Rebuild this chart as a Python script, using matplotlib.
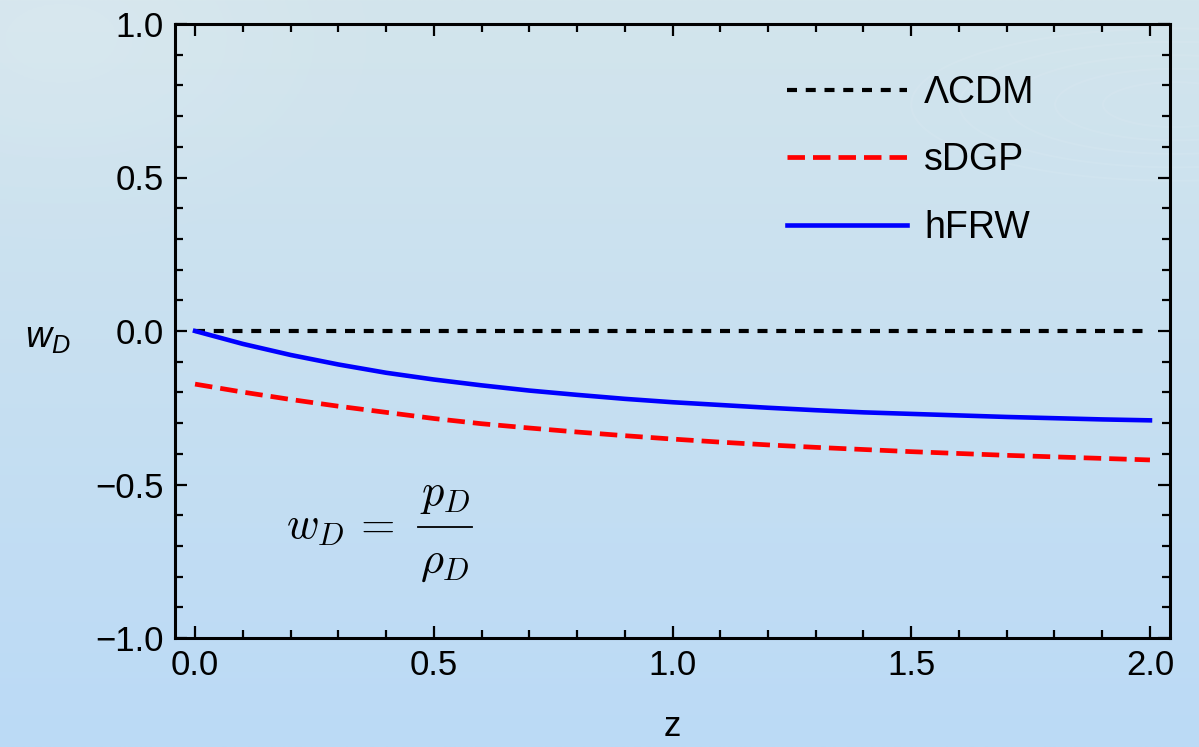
import numpy as np
import matplotlib
matplotlib.use("Agg")
import matplotlib.pyplot as plt
from matplotlib.ticker import MultipleLocator, FuncFormatter

plt.rcParams["font.family"] = ["Liberation Sans", "DejaVu Sans"]
plt.rcParams["mathtext.fontset"] = "custom"
plt.rcParams["mathtext.it"] = "Liberation Sans:italic"
plt.rcParams["mathtext.rm"] = "Liberation Sans"

# redshift grid and equation-of-state values for each model
z = [0.0, 0.1, 0.2, 0.3, 0.4, 0.5, 0.6, 0.7, 0.8, 0.9, 1.0,
     1.1, 1.2, 1.3, 1.4, 1.5, 1.6, 1.7, 1.8, 1.9, 2.0]
w_lcdm = [0.0] * len(z)
w_sdgp = [-0.173, -0.199, -0.223, -0.245, -0.265, -0.285, -0.302, -0.316,
          -0.329, -0.341, -0.352, -0.362, -0.371, -0.379, -0.386, -0.393,
          -0.399, -0.405, -0.410, -0.415, -0.420]
w_hfrw = [0.0, -0.042, -0.078, -0.109, -0.136, -0.158, -0.177, -0.194,
          -0.208, -0.221, -0.232, -0.241, -0.250, -0.258, -0.265, -0.270,
          -0.275, -0.280, -0.284, -0.288, -0.291]

labels = ["\u039bCDM", "sDGP", "hFRW"]
x_ticks = [0.0, 0.5, 1.0, 1.5, 2.0]
y_ticks = [-1.0, -0.5, 0.0, 0.5, 1.0]

W, H = 1199, 747
fig = plt.figure(figsize=(W / 100, H / 100), dpi=100)

# soft blue backdrop
bg = fig.add_axes([0, 0, 1, 1], zorder=-10)
bg.set_axis_off()
t = np.linspace(0, 1, 300)[:, None]
top = np.array([211, 229, 236]) / 255
bot = np.array([187, 218, 246]) / 255
grad = top * (1 - t[..., None]) + bot * t[..., None]
grad = np.repeat(grad, 2, axis=1)
bg.imshow(grad, aspect="auto", extent=[0, 1, 0, 1], origin="upper")
yy, xx = np.mgrid[0:1:300j, 0:1:400j]
blob = np.exp(-(((xx - 0.05) / 0.2) ** 2 + ((yy - 0.05) / 0.2) ** 2))
bg.imshow(np.dstack([np.ones_like(blob)] * 3 + [0.12 * blob]),
          aspect="auto", extent=[0, 1, 0, 1], origin="upper")
th = np.linspace(0, 2 * np.pi, 200)
for k in range(5):
    bg.plot(0.98 + (0.06 + 0.04 * k) * np.cos(th),
            0.86 + (0.03 + 0.018 * k) * np.sin(th),
            color="white", alpha=0.07, lw=1.5)
bg.set_xlim(0, 1)
bg.set_ylim(0, 1)

ax = fig.add_axes([175 / W, 1 - 638 / H, (1170 - 175) / W, (638 - 24) / H])
ax.patch.set_alpha(0)

ax.plot(z, w_lcdm, color="black", lw=3.0, linestyle=(0, (2.4, 2.1)),
        label=labels[0])
ax.plot(z, w_sdgp, color="#ff0000", lw=3.4, linestyle=(0, (3.7, 1.7)),
        label=labels[1])
ax.plot(z, w_hfrw, color="#0000ff", lw=3.3, label=labels[2])

ax.set_xlim(-0.042, 2.042)
ax.set_ylim(-1.0, 1.0)
ax.set_xticks(x_ticks)
ax.set_yticks(y_ticks)
fmt = FuncFormatter(lambda v, p: f"{v:.1f}".replace("-", "\u2212"))
ax.xaxis.set_major_formatter(fmt)
ax.yaxis.set_major_formatter(fmt)
ax.xaxis.set_minor_locator(MultipleLocator(0.1))
ax.yaxis.set_minor_locator(MultipleLocator(0.1))
ax.tick_params(which="both", direction="in", top=True, right=True,
               labelsize=25, colors="black")
ax.tick_params(which="major", length=8.5, width=1.6, pad=8)
ax.tick_params(which="minor", length=5.5, width=1.6)
for s in ax.spines.values():
    s.set_linewidth(2.2)

fig.text(48 / W, 1 - 337 / H, r"$w_D$", fontsize=26, ha="center", va="center")
fig.text(672 / W, 1 - 727 / H, "z", fontsize=25, ha="center", va="center")

# w_D = p_D / rho_D, set as a display fraction
fs = 32
fig.text(340 / W, 1 - 528 / H, r"$w_D\,=$", fontsize=fs, math_fontfamily="cm",
         ha="center", va="center")
fig.text(445 / W, 1 - 516 / H, r"$p_D$", fontsize=fs, math_fontfamily="cm",
         ha="center", va="bottom")
fig.text(445 / W, 1 - 543 / H, r"$\rho_D$", fontsize=fs, math_fontfamily="cm",
         ha="center", va="top")
fig.add_artist(plt.Line2D([418 / W, 472 / W], [1 - 527 / H, 1 - 527 / H],
                          color="black", lw=1.3, transform=fig.transFigure))

leg = ax.legend(loc="upper left", bbox_to_anchor=(787 / W, 1 - 75 / H),
                bbox_transform=fig.transFigure, frameon=False, fontsize=27,
                handlelength=3.2, handletextpad=0.45, labelspacing=0.84,
                borderpad=0, borderaxespad=0)

fig.savefig("out.png", dpi=100)
